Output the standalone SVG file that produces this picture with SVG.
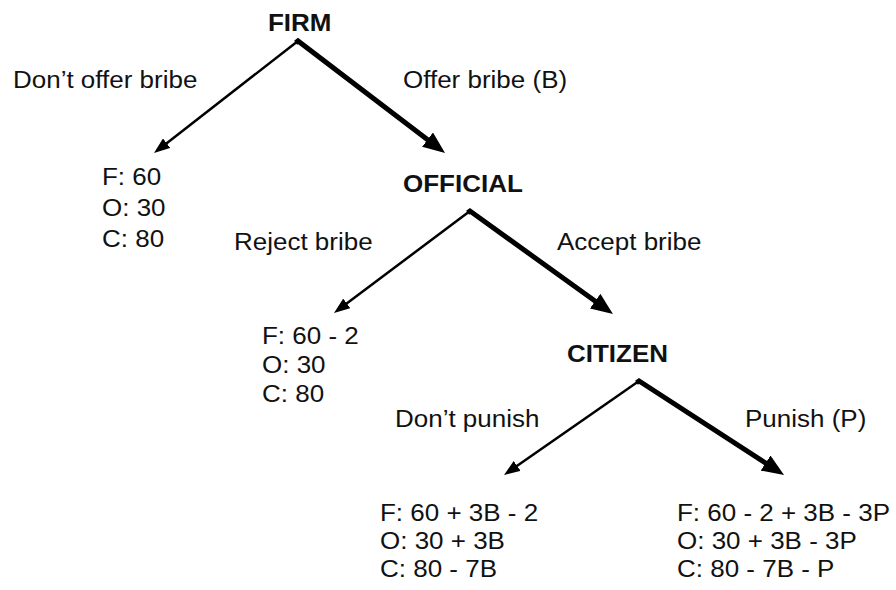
<svg xmlns="http://www.w3.org/2000/svg" width="896" height="590" viewBox="0 0 896 590">
  <style>
    text { font-family: "Liberation Sans", Arial, sans-serif; font-size: 23px; fill: #111; }
    .node { font-weight: bold; }
    .thin { stroke: #000; stroke-width: 2.5; fill: none; stroke-linejoin: miter; }
    .thick { stroke: #000; stroke-width: 5; fill: none; stroke-linejoin: miter; stroke-miterlimit: 10; }
  </style>
  <defs>
    <marker id="ah-thin" markerWidth="16" markerHeight="12" refX="6" refY="6" orient="auto" markerUnits="userSpaceOnUse">
      <path d="M0,0 L16,6 L0,12 Z" fill="#000"/>
    </marker>
    <marker id="ah-thick" markerWidth="22" markerHeight="18" refX="8" refY="9" orient="auto" markerUnits="userSpaceOnUse">
      <path d="M0,0 L22,9 L0,18 Z" fill="#000"/>
    </marker>
  </defs>
  <rect width="896" height="590" fill="#fff"/>

  <g id="connectors">
    <g id="edge-firm-dont">
      <path class="thin" d="M298,41 L161.9,146.9" marker-end="url(#ah-thin)"/>
      <text transform="translate(13 88) scale(1.13 1)">Don’t offer bribe</text>
    </g>
    <g id="edge-firm-offer">
      <path class="thick" d="M295.6,42.8 L298,41 L433.9,144.5" marker-end="url(#ah-thick)"/>
      <text transform="translate(403 88) scale(1.13 1)">Offer bribe (B)</text>
    </g>
    <g id="edge-official-reject">
      <path class="thin" d="M470,211 L342,307" marker-end="url(#ah-thin)"/>
      <text transform="translate(234 250) scale(1.13 1)">Reject bribe</text>
    </g>
    <g id="edge-official-accept">
      <path class="thick" d="M467.6,212.8 L470,211 L601.6,305.8" marker-end="url(#ah-thick)"/>
      <text transform="translate(557 250) scale(1.13 1)">Accept bribe</text>
    </g>
    <g id="edge-citizen-dont">
      <path class="thin" d="M639,381 L512.2,469.3" marker-end="url(#ah-thin)"/>
      <text transform="translate(395 427) scale(1.13 1)">Don’t punish</text>
    </g>
    <g id="edge-citizen-punish">
      <path class="thick" d="M636.5,382.7 L639,381 L772.3,467.4" marker-end="url(#ah-thick)"/>
      <text transform="translate(745 427) scale(1.13 1)">Punish (P)</text>
    </g>
  </g>

  <g id="node-firm">
    <text class="node" transform="translate(268 31) scale(1.13 1)">FIRM</text>
  </g>
  <g id="node-official">
    <text class="node" transform="translate(403 192) scale(1.13 1)">OFFICIAL</text>
  </g>
  <g id="node-citizen">
    <text class="node" transform="translate(567 362) scale(1.13 1)">CITIZEN</text>
  </g>

  <g id="payoff-no-bribe">
    <text transform="translate(102 185) scale(1.13 1)"><tspan x="0" y="0">F: 60</tspan><tspan x="0" y="31">O: 30</tspan><tspan x="0" y="62">C: 80</tspan></text>
  </g>
  <g id="payoff-reject">
    <text transform="translate(262 344) scale(1.13 1)"><tspan x="0" y="0">F: 60 - 2</tspan><tspan x="0" y="29">O: 30</tspan><tspan x="0" y="58">C: 80</tspan></text>
  </g>
  <g id="payoff-no-punish">
    <text transform="translate(380 521) scale(1.13 1)"><tspan x="0" y="0">F: 60 + 3B - 2</tspan><tspan x="0" y="28">O: 30 + 3B</tspan><tspan x="0" y="56">C: 80 - 7B</tspan></text>
  </g>
  <g id="payoff-punish">
    <text transform="translate(677 521) scale(1.13 1)"><tspan x="0" y="0">F: 60 - 2 + 3B - 3P</tspan><tspan x="0" y="28">O: 30 + 3B - 3P</tspan><tspan x="0" y="56">C: 80 - 7B - P</tspan></text>
  </g>
</svg>
